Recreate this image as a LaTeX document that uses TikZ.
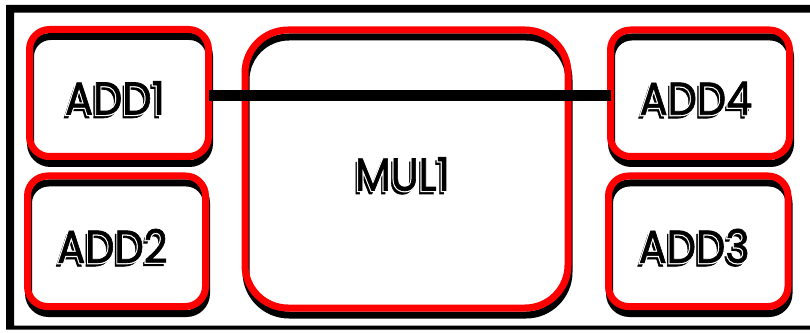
\documentclass[tikz,border=0pt]{standalone}
\usepackage{fontspec}
\setmainfont{Poppins}
\newfontfamily\popfont{Poppins}[FakeBold=1.5]
\newfontfamily\pophalo{Poppins}[FakeBold=7]
\usetikzlibrary{shadows,calc}
\begin{document}
\begin{tikzpicture}[x=1pt,y=1pt,
  box/.style={draw=red, line width=7pt, inner sep=0pt, outer sep=0pt,
    general shadow={draw=black, fill=white, shadow xshift=1pt, shadow yshift=-7pt}},
  smallbox/.style={box, rounded corners=20pt},
  bigbox/.style={box, rounded corners=43pt},
  lbl/.style={inner sep=0pt, anchor=base, text=black, xscale=0.9,
    font=\popfont\fontsize{46}{46}\selectfont},
  halo/.style={lbl, text=white, font=\pophalo\fontsize{46}{46}\selectfont},
  link/.style={draw=black, line width=10.5pt},
  frame/.style={fill=black, even odd rule}]
\useasboundingbox (0,0) rectangle (810,332);
% outer frame (clipped at right)
\fill[frame] (6,327) rectangle (830,2.5) (14,319.3) rectangle (825,6.5);
% boxes
\node[smallbox, minimum width=179pt, minimum height=127pt] (a1) at (119,239) {};
\node[smallbox, minimum width=178pt, minimum height=130.5pt] (a2) at (116.5,90.75) {};
\node[bigbox, minimum width=323pt, minimum height=278pt] (m1) at (406.5,163) {};
\node[smallbox, minimum width=179pt, minimum height=126.5pt] (a4) at (700,238.75) {};
\node[smallbox, minimum width=179.5pt, minimum height=130.5pt] (a3) at (698.25,90.75) {};
% connector
\draw[link] ($(a1.east)+(0,-2.5)$) -- ($(a4.west)+(0,-2.25)$);
% labels
\newcommand\dlabel[3]{%
  \node[lbl] (#1s) at ($(#2)+(-6.5,-25)$) {#3};
  \node[halo] (#1h) at ($(#2)+(-4,-21.5)$) {#3};
  \node[lbl] (#1t) at ($(#2)+(-4,-21.5)$) {#3};}
\dlabel{ta1}{a1}{ADD1}
\dlabel{ta2}{a2}{ADD2}
\dlabel{tm1}{m1}{MUL1}
\dlabel{ta4}{a4}{ADD4}
\dlabel{ta3}{a3}{ADD3}
\end{tikzpicture}
\end{document}
